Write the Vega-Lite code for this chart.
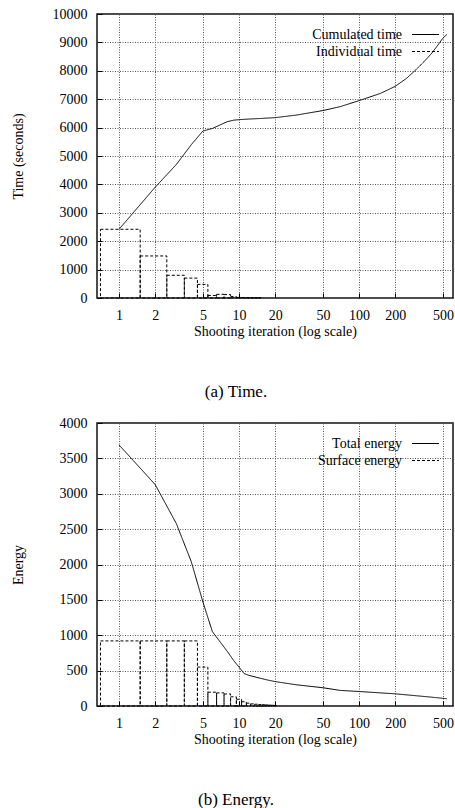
{
  "$schema": "https://vega.github.io/schema/vega-lite/v6.json",
  "padding": {"left": 10, "top": 6, "right": 3, "bottom": 0},
  "spacing": 14,
  "config": {
    "font": "Liberation Serif",
    "view": {"stroke": "#111", "strokeWidth": 1.5},
    "axis": {
      "labelFont": "Liberation Serif", "labelFontSize": 14, "labelColor": "#000", "labelOverlap": false,
      "titleFont": "Liberation Serif", "titleFontSize": 14, "titleFontWeight": "normal", "titleColor": "#000",
      "grid": true, "gridColor": "#555", "gridDash": [1, 1.5], "gridOpacity": 1, "gridWidth": 1,
      "domain": false, "ticks": true, "tickSize": -5, "tickColor": "#000", "tickWidth": 1, "labelPadding": 15
    },
    "legend": {
      "orient": "none", "legendX": 321, "legendY": 13, "title": null, "padding": 0,
      "labelFont": "Liberation Serif", "labelFontSize": 14, "labelColor": "#000",
      "labelAlign": "right", "labelOffset": -31,
      "symbolType": "M-2,0H2", "symbolSize": 182, "symbolStrokeWidth": 1, "symbolStrokeColor": "#000", "symbolFillColor": "transparent",
      "rowPadding": 2
    },
    "title": {"font": "Liberation Serif", "fontSize": 17, "fontWeight": "normal", "color": "#000"}
  },
  "datasets": {
    "timeBoxes": [
      {"x": 0.7, "xe": 1.5, "v": 2420},
      {"x": 1.5, "xe": 2.5, "v": 1480},
      {"x": 2.5, "xe": 3.5, "v": 800},
      {"x": 3.5, "xe": 4.5, "v": 700},
      {"x": 4.5, "xe": 5.5, "v": 480},
      {"x": 5.5, "xe": 6.5, "v": 90},
      {"x": 6.5, "xe": 7.5, "v": 130},
      {"x": 7.5, "xe": 8.5, "v": 120},
      {"x": 8.5, "xe": 9.5, "v": 50},
      {"x": 9.5, "xe": 10.5, "v": 20},
      {"x": 10.5, "xe": 11.5, "v": 12},
      {"x": 11.5, "xe": 12.5, "v": 10},
      {"x": 12.5, "xe": 13.5, "v": 10},
      {"x": 13.5, "xe": 14.5, "v": 8},
      {"x": 14.5, "xe": 15.5, "v": 8}
    ],
    "timeLine": [
      {"x": 1, "v": 2420, "series": "Cumulated time"},
      {"x": 2, "v": 3900, "series": "Cumulated time"},
      {"x": 3, "v": 4700, "series": "Cumulated time"},
      {"x": 4, "v": 5400, "series": "Cumulated time"},
      {"x": 5, "v": 5880, "series": "Cumulated time"},
      {"x": 6, "v": 5970, "series": "Cumulated time"},
      {"x": 7, "v": 6100, "series": "Cumulated time"},
      {"x": 8, "v": 6210, "series": "Cumulated time"},
      {"x": 9, "v": 6260, "series": "Cumulated time"},
      {"x": 10, "v": 6280, "series": "Cumulated time"},
      {"x": 12, "v": 6300, "series": "Cumulated time"},
      {"x": 15, "v": 6320, "series": "Cumulated time"},
      {"x": 20, "v": 6350, "series": "Cumulated time"},
      {"x": 30, "v": 6440, "series": "Cumulated time"},
      {"x": 50, "v": 6600, "series": "Cumulated time"},
      {"x": 70, "v": 6740, "series": "Cumulated time"},
      {"x": 100, "v": 6950, "series": "Cumulated time"},
      {"x": 150, "v": 7200, "series": "Cumulated time"},
      {"x": 200, "v": 7450, "series": "Cumulated time"},
      {"x": 250, "v": 7740, "series": "Cumulated time"},
      {"x": 300, "v": 8050, "series": "Cumulated time"},
      {"x": 350, "v": 8330, "series": "Cumulated time"},
      {"x": 400, "v": 8600, "series": "Cumulated time"},
      {"x": 450, "v": 8880, "series": "Cumulated time"},
      {"x": 500, "v": 9150, "series": "Cumulated time"},
      {"x": 540, "v": 9280, "series": "Cumulated time"}
    ],
    "energyBoxes": [
      {"x": 0.7, "xe": 1.5, "v": 920},
      {"x": 1.5, "xe": 2.5, "v": 920},
      {"x": 2.5, "xe": 3.5, "v": 920},
      {"x": 3.5, "xe": 4.5, "v": 920},
      {"x": 4.5, "xe": 5.5, "v": 550},
      {"x": 5.5, "xe": 6.5, "v": 195},
      {"x": 6.5, "xe": 7.5, "v": 185},
      {"x": 7.5, "xe": 8.5, "v": 170},
      {"x": 8.5, "xe": 9.5, "v": 130},
      {"x": 9.5, "xe": 10.5, "v": 95},
      {"x": 10.5, "xe": 11.5, "v": 60},
      {"x": 11.5, "xe": 12.5, "v": 40},
      {"x": 12.5, "xe": 13.5, "v": 30},
      {"x": 13.5, "xe": 14.5, "v": 25},
      {"x": 14.5, "xe": 15.5, "v": 20},
      {"x": 15.5, "xe": 16.5, "v": 18},
      {"x": 16.5, "xe": 17.5, "v": 15},
      {"x": 17.5, "xe": 18.5, "v": 12},
      {"x": 18.5, "xe": 19.5, "v": 10},
      {"x": 19.5, "xe": 20.5, "v": 8}
    ],
    "energyLine": [
      {"x": 1, "v": 3690, "series": "Total energy"},
      {"x": 2, "v": 3130, "series": "Total energy"},
      {"x": 3, "v": 2580, "series": "Total energy"},
      {"x": 4, "v": 2040, "series": "Total energy"},
      {"x": 5, "v": 1470, "series": "Total energy"},
      {"x": 6, "v": 1050, "series": "Total energy"},
      {"x": 7, "v": 900, "series": "Total energy"},
      {"x": 8, "v": 770, "series": "Total energy"},
      {"x": 9, "v": 645, "series": "Total energy"},
      {"x": 10, "v": 550, "series": "Total energy"},
      {"x": 11, "v": 460, "series": "Total energy"},
      {"x": 12, "v": 435, "series": "Total energy"},
      {"x": 14, "v": 405, "series": "Total energy"},
      {"x": 17, "v": 370, "series": "Total energy"},
      {"x": 20, "v": 345, "series": "Total energy"},
      {"x": 30, "v": 300, "series": "Total energy"},
      {"x": 50, "v": 258, "series": "Total energy"},
      {"x": 70, "v": 220, "series": "Total energy"},
      {"x": 100, "v": 205, "series": "Total energy"},
      {"x": 200, "v": 172, "series": "Total energy"},
      {"x": 300, "v": 145, "series": "Total energy"},
      {"x": 400, "v": 125, "series": "Total energy"},
      {"x": 540, "v": 103, "series": "Total energy"}
    ]
  },
  "vconcat": [
    {
      "width": 356,
      "height": 284,
      "title": {"text": "(a) Time.", "orient": "bottom", "anchor": "middle", "offset": 46, "dx": -39},
      "encoding": {
        "x": {"field": "x", "type": "quantitative",
          "scale": {"type": "log", "domain": [0.655, 607], "nice": false},
          "axis": {"values": [1, 2, 5, 10, 20, 50, 100, 200, 500], "format": "d", "title": "Shooting iteration (log scale)", "titlePadding": 2}},
        "y": {"field": "v", "type": "quantitative",
          "scale": {"domain": [0, 10000], "nice": false},
          "axis": {"values": [0, 1000, 2000, 3000, 4000, 5000, 6000, 7000, 8000, 9000, 10000], "tickCount": 11, "format": "d", "title": "Time (seconds)", "titleX": -72}}
      },
      "layer": [
        {
          "data": {"name": "timeBoxes"},
          "mark": {"type": "rect", "fillOpacity": 0, "stroke": "#000", "strokeWidth": 1, "strokeDash": [3, 2]},
          "encoding": {
            "x2": {"field": "xe"},
            "y2": {"datum": 0}
          }
        },
        {
          "data": {"name": "timeLine"},
          "mark": {"type": "line", "stroke": "#000", "strokeWidth": 1},
          "encoding": {
            "strokeDash": {"field": "series", "type": "nominal",
              "scale": {"domain": ["Cumulated time", "Individual time"], "range": [[1, 0], [3, 2]]}}
          }
        }
      ]
    },
    {
      "width": 356,
      "height": 283,
      "title": {"text": "(b) Energy.", "orient": "bottom", "anchor": "middle", "offset": 46, "dx": -39},
      "encoding": {
        "x": {"field": "x", "type": "quantitative",
          "scale": {"type": "log", "domain": [0.655, 607], "nice": false},
          "axis": {"values": [1, 2, 5, 10, 20, 50, 100, 200, 500], "format": "d", "title": "Shooting iteration (log scale)", "titlePadding": 2}},
        "y": {"field": "v", "type": "quantitative",
          "scale": {"domain": [0, 4000], "nice": false},
          "axis": {"values": [0, 500, 1000, 1500, 2000, 2500, 3000, 3500, 4000], "tickCount": 9, "format": "d", "title": "Energy", "titleX": -72}}
      },
      "layer": [
        {
          "data": {"name": "energyBoxes"},
          "mark": {"type": "rect", "fillOpacity": 0, "stroke": "#000", "strokeWidth": 1, "strokeDash": [3, 2]},
          "encoding": {
            "x2": {"field": "xe"},
            "y2": {"datum": 0}
          }
        },
        {
          "data": {"name": "energyLine"},
          "mark": {"type": "line", "stroke": "#000", "strokeWidth": 1},
          "encoding": {
            "strokeDash": {"field": "series", "type": "nominal",
              "scale": {"domain": ["Total energy", "Surface energy"], "range": [[1, 0], [3, 2]]}}
          }
        }
      ]
    }
  ],
  "resolve": {"scale": {"strokeDash": "independent"}}
}
